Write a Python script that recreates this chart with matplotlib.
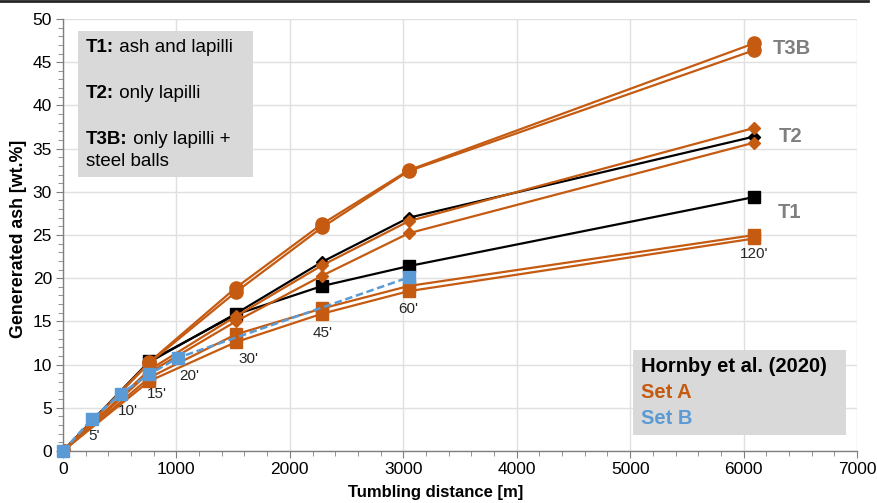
import matplotlib
matplotlib.use("Agg")
import matplotlib.pyplot as plt
from matplotlib.lines import Line2D
from matplotlib.patches import Rectangle
import numpy as np

plt.rcParams['font.family'] = ['Liberation Sans', 'DejaVu Sans']

# ---- data ----
m_per_min = 50.8

# Hornby et al. (2020) - black
hornby_t1_min = [0, 15, 30, 45, 60, 120]
hornby_t1 = [0, 10.4, 15.8, 19.1, 21.4, 29.4]
hornby_t2_min = [0, 15, 30, 45, 60, 120]
hornby_t2 = [0, 10.3, 15.9, 21.9, 27.0, 36.4]

# Set A - orange
setA_min = [0, 15, 30, 45, 60, 120]
setA_t3b_1 = [0, 10.3, 18.9, 26.3, 32.5, 47.2]
setA_t3b_2 = [0, 10.2, 18.4, 25.9, 32.4, 46.4]
setA_t2_1 = [0, 9.4, 15.6, 21.5, 26.6, 37.4]
setA_t2_2 = [0, 9.1, 15.0, 20.3, 25.2, 35.7]
setA_t1_1 = [0, 8.5, 13.5, 16.5, 19.1, 25.0]
setA_t1_2 = [0, 8.1, 12.6, 15.9, 18.5, 24.6]

# Set B - blue
setB_min = [0, 5, 10, 15, 20, 60]
setB = [0, 3.7, 6.6, 8.9, 10.8, 20.1]

time_labels = ["5'", "10'", "15'", "20'", "30'", "45'", "60'", "120'"]
time_label_min = [5, 10, 15, 20, 30, 45, 60, 120]

x_ticks = [0, 1000, 2000, 3000, 4000, 5000, 6000, 7000]
y_ticks = [0, 5, 10, 15, 20, 25, 30, 35, 40, 45, 50]

ORANGE = '#C55A11'
BLUE = '#5B9BD5'
GRAY_BOX = '#D9D9D9'

def dist(mins):
    return np.array(mins) * m_per_min

W, H = 877, 503
fig = plt.figure(figsize=(W/100, H/100), dpi=100)
ax = fig.add_axes([63/W, 1-451/H, (857-63)/W, (451-19)/H])

ax.set_xlim(0, 7000)
ax.set_ylim(0, 50)
ax.set_xticks(x_ticks)
ax.set_yticks(y_ticks)
ax.set_xticks(np.arange(0, 7001, 200), minor=True)
ax.set_yticks(np.arange(0, 50.1, 1), minor=True)
ax.grid(True, which='major', color='#E0E0E0', lw=1.0, zorder=0)
ax.set_axisbelow(True)
for s in ['top', 'right']:
    ax.spines[s].set_visible(False)
for s in ['left', 'bottom']:
    ax.spines[s].set_color('#7F7F7F')
    ax.spines[s].set_linewidth(1.0)
ax.tick_params(which='major', direction='out', length=5, color='#7F7F7F', labelsize=12.5, pad=3)
ax.tick_params(which='minor', direction='out', length=3.5, color='#7F7F7F')

lw = 1.6
# Hornby black
ax.plot(dist(hornby_t1_min), hornby_t1, color='black', lw=lw, marker='s', ms=8.5, zorder=3)
ax.plot(dist(hornby_t2_min), hornby_t2, color='black', lw=lw, marker='D', ms=6.5, zorder=3)
# Set A orange
ax.plot(dist(setA_min), setA_t1_1, color=ORANGE, lw=lw, marker='s', ms=9, zorder=4)
ax.plot(dist(setA_min), setA_t1_2, color=ORANGE, lw=lw, marker='s', ms=9, zorder=4)
ax.plot(dist(setA_min), setA_t2_1, color=ORANGE, lw=lw, marker='D', ms=6.5, zorder=4)
ax.plot(dist(setA_min), setA_t2_2, color=ORANGE, lw=lw, marker='D', ms=6.5, zorder=4)
ax.plot(dist(setA_min), setA_t3b_1, color=ORANGE, lw=lw, marker='o', ms=9.5, zorder=4)
ax.plot(dist(setA_min), setA_t3b_2, color=ORANGE, lw=lw, marker='o', ms=9.5, zorder=4)
# Set B blue
ax.plot(dist(setB_min), setB, color=BLUE, lw=1.8, ls=(0, (3, 1.5)), marker='s', ms=9,
        zorder=5, clip_on=False)

# time labels below the lowest series value
all_series = [(setA_min, setA_t1_2), (setA_min, setA_t1_1), (setB_min, setB),
              (hornby_t1_min, hornby_t1)]
offsets = {5: (2, -7), 10: (5, -7), 15: (5, -4), 20: (8, -8), 30: (9, -7),
           45: (0, -9), 60: (0, -8), 120: (0, -6)}
for lab, mn in zip(time_labels, time_label_min):
    vals = [vs[mins.index(mn)] for mins, vs in all_series if mn in mins]
    ymin = min(vals)
    ax.annotate(lab, (mn * m_per_min, ymin), xytext=offsets[mn],
                textcoords='offset points', ha='center', va='top', fontsize=11,
                color='#262626', zorder=6)

# group labels
for lab, (px, py) in zip(['T3B', 'T2', 'T1'], [(792, 48), (791, 137), (790, 212)]):
    fig.text(px/W, 1-py/H, lab, fontsize=14.5, fontweight='bold',
             color='#7F7F7F', ha='center', va='center')

# top-left box
fig.patches.append(Rectangle((78/W, 1-177/H), (253-78)/W, (177-31)/H,
                             transform=fig.transFigure, facecolor=GRAY_BOX, edgecolor='none', zorder=7))
box_lines = [(47, 'T1:', ' ash and lapilli'), (93, 'T2:', ' only lapilli'),
             (139, 'T3B:', ' only lapilli +'), (162, '', 'steel balls')]
renderer = fig.canvas.get_renderer()
for yy, b, r in box_lines:
    if b:
        t = fig.text(86/W, 1-yy/H, b, fontsize=13.5, fontweight='bold', va='center', ha='left', zorder=8)
        bb = t.get_window_extent(renderer=renderer)
        fig.text(bb.x1/W, 1-yy/H, r, fontsize=13.5, va='center', ha='left', zorder=8)
    else:
        fig.text(86/W, 1-yy/H, r, fontsize=13.5, va='center', ha='left', zorder=8)

# bottom-right box
fig.patches.append(Rectangle((633/W, 1-435/H), (846-633)/W, (435-350)/H,
                             transform=fig.transFigure, facecolor=GRAY_BOX, edgecolor='none', zorder=7))
for txt, col, yy in [('Hornby et al. (2020)', 'black', 366), ('Set A', ORANGE, 392), ('Set B', BLUE, 418)]:
    fig.text(641/W, 1-yy/H, txt, fontsize=14.5, fontweight='bold', color=col,
             va='center', ha='left', zorder=8)

# axis labels
fig.text(436/W, 1-493/H, 'Tumbling distance [m]', fontsize=12, fontweight='bold',
         ha='center', va='center')
fig.text(19/W, 1-239/H, 'Genererated ash [wt.%]', fontsize=12.8, fontweight='bold',
         ha='center', va='center', rotation=90)

# top border line
fig.add_artist(Line2D([0, 868/W], [1-1/H, 1-1/H], transform=fig.transFigure,
                      color='#262626', lw=2))

fig.savefig('out.png', dpi=100)
